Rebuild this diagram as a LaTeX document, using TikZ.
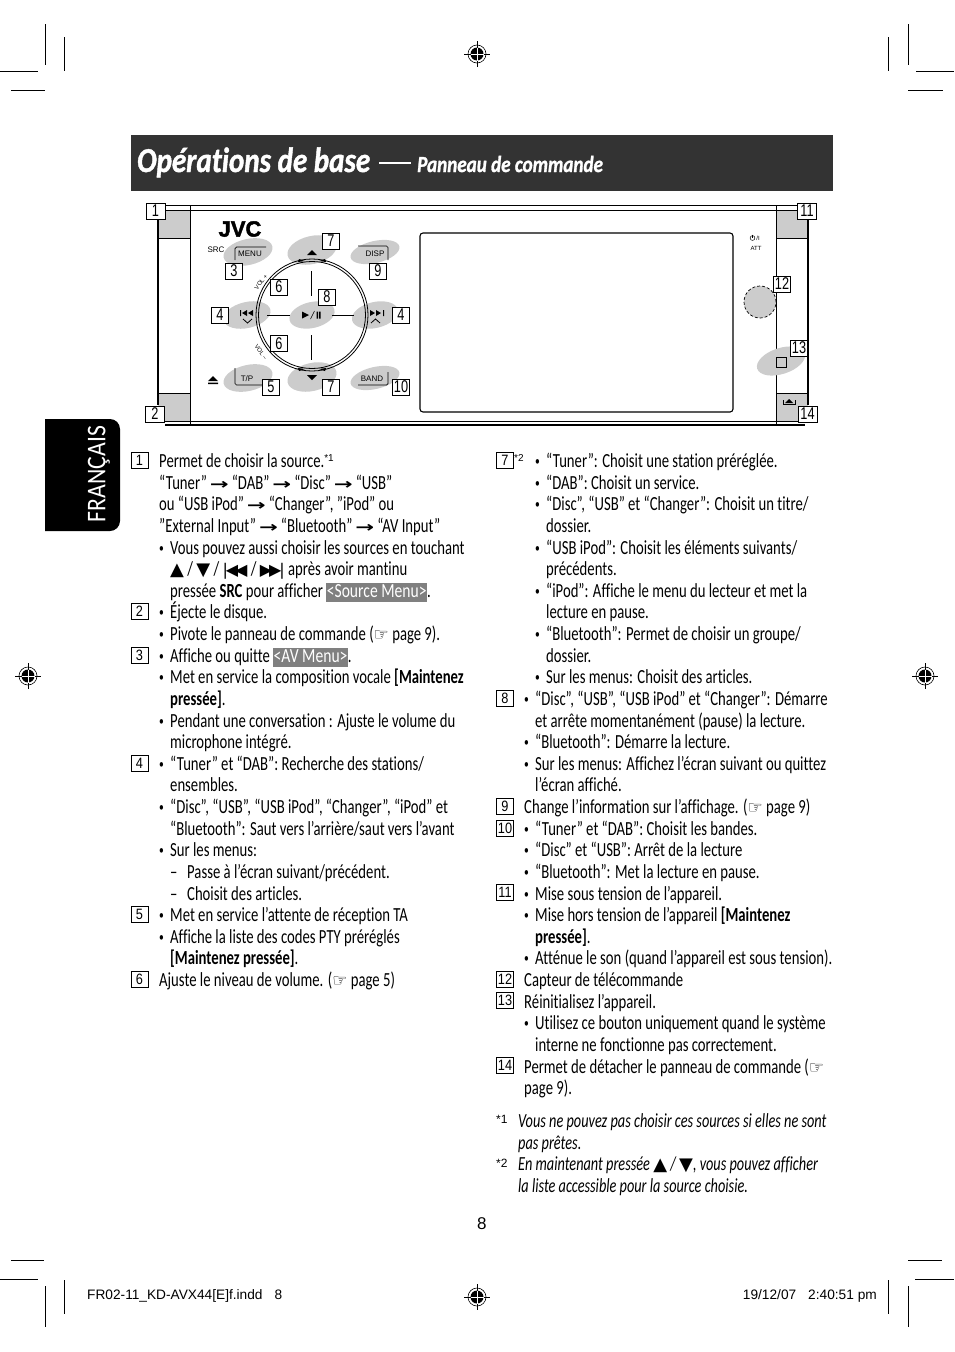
\documentclass[tikz,border=0pt]{standalone}
\usepackage{fontspec}
\setmainfont{Carlito}[FakeStretch=0.735,Ligatures={TeX,NoCommon}]
\newfontfamily\titlefont{Carlito}[FakeStretch=0.83,Ligatures=NoCommon,BoldItalicFeatures={FakeBold=1.2}]
\newfontfamily\notefont{Carlito}[FakeStretch=0.715,Ligatures=NoCommon]
\newfontfamily\tabfont{Carlito}[FakeStretch=0.88]
\newfontfamily\hlfont{Carlito}[FakeStretch=0.78]
\newfontfamily\symfont{DejaVu Sans}
\newfontfamily\arrowfont{DejaVu Sans}[FakeStretch=1.5]
\newfontfamily\arialfont{Liberation Sans}
\newfontfamily\logofont{Liberation Sans}[UprightFont=* Bold,FakeBold=2]
\newfontfamily\boxfont{Liberation Sans}[FakeStretch=0.85]
\newfontfamily\thinboxfont{Liberation Sans}[FakeStretch=0.75]
\usetikzlibrary{positioning,shapes.geometric}
\definecolor{panelgray}{HTML}{CCCCCC}
\definecolor{barblack}{HTML}{333333}
\definecolor{menugray}{HTML}{808080}
\newcommand{\bu}{\makebox[11pt][l]{\raisebox{1.5pt}{\fontsize{13}{13}\selectfont\textbullet}}}
\newcommand{\arr}{\hspace{3pt}{\arrowfont\fontsize{15}{15}\selectfont\bfseries→}\hspace{3pt}}
\newcommand{\hand}{{\symfont\fontsize{17}{17}\selectfont☞}\,}
\newcommand{\uptri}{{\symfont\fontsize{18}{18}\selectfont▲}}
\newcommand{\dntri}{{\symfont\fontsize{18}{18}\selectfont▼}}
\newcommand{\prevsym}{{\symfont\fontsize{16}{16}\selectfont|\kern-2pt◀\kern-3pt◀}}
\newcommand{\nextsym}{{\symfont\fontsize{16}{16}\selectfont▶\kern-3pt▶\kern-2pt|}}
\newcommand{\hlmenu}[1]{{\fboxsep=0.5pt\colorbox{menugray}{\rule[-4pt]{0pt}{18pt}\textcolor{white}{\hlfont #1}}}}
\newcommand{\refmark}[1]{\raisebox{6pt}{\arialfont\fontsize{10}{10}\selectfont*#1}}
\tikzset{
  txt/.style={anchor=base west,inner sep=0pt,yshift=-1pt,font=\fontsize{20}{20}\selectfont},
  note/.style={anchor=base west,inner sep=0pt,font=\notefont\fontsize{20}{20}\selectfont\itshape},
  numbox/.style={draw,line width=.6pt,fill=white,minimum width=17pt,minimum height=16pt,inner sep=0pt,font=\boxfont\fontsize{15}{15}\selectfont},
  callout/.style={numbox,font=\thinboxfont\fontsize{17}{17}\selectfont},
  keyzone/.style={ellipse,fill=panelgray,inner sep=0pt,minimum width=50pt,minimum height=26pt,rotate=13},
  keyname/.style={inner sep=0pt,font=\arialfont\fontsize{8}{8}\selectfont},
  tinyname/.style={inner sep=0pt,font=\arialfont\fontsize{6}{6}\selectfont},
  footer/.style={anchor=base west,inner sep=0pt,font=\arialfont\fontsize{13.7}{13.7}\selectfont},
  regmark/.pic={
    \draw[line width=.6pt] (0,0) circle[radius=9pt];
    \draw[line width=.6pt] (-13,0) -- (13,0) (0,-13) -- (0,13);
    \fill (0,0) circle[radius=6.5pt];
    \draw[white,line width=.7pt] (-6.5,0) -- (6.5,0) (0,-6.5) -- (0,6.5);
  }
}
\begin{document}
\begin{tikzpicture}[x=1pt,y=-1pt]
\useasboundingbox (0,0) rectangle (954,1352);
% crop marks
\draw[line width=.8pt] (0,71) -- (38,71) (11,90) -- (45,90) (45,24) -- (45,65) (64,37) -- (64,71);
\draw[line width=.8pt] (916,71) -- (954,71) (908,90) -- (943,90) (908,24) -- (908,65) (888,37) -- (888,71);
\draw[line width=.8pt] (11,1260) -- (44,1260) (0,1279) -- (38,1279) (64,1280) -- (64,1314) (45,1286) -- (45,1327);
\draw[line width=.8pt] (908,1260) -- (942,1260) (915,1279) -- (954,1279) (888,1280) -- (888,1314) (908,1286) -- (908,1327);
\pic at (477,54) {regmark};
\pic at (28,676) {regmark};
\pic at (925,676) {regmark};
\pic at (477,1297) {regmark};
% title bar
\fill[barblack] (131,135) rectangle (833,191);
\node[anchor=base west,inner sep=0pt,white,font=\titlefont\fontsize{35}{35}\selectfont\bfseries\itshape] (title) at (137,172) {Opérations de base};
\draw[white,line width=2.2pt] (379,163) -- (411,163);
\node[anchor=base west,inner sep=0pt,white,font=\titlefont\fontsize{23}{23}\selectfont\bfseries\itshape] (subtitle) at (417,172) {Panneau de commande};
% language tab
\fill[black] (45,419) [rounded corners=10pt] -- (120,419) -- (120,531) [sharp corners] -- (45,531) -- cycle;
\node[white,rotate=90,inner sep=0pt,font=\tabfont\fontsize{27}{27}\selectfont] (lang) at (99,474) {FRANÇAIS};
% panel
\fill[panelgray] (158,210) rectangle (190,238) (158,393) rectangle (190,421) (776,210) rectangle (808,238) (776,393) rectangle (808,421);
\draw (158,238) -- (190,238) (158,393) -- (190,393) (776,238) -- (808,238) (776,393) -- (808,393);
\draw[line width=1.2pt] (165,205.5) -- (798,205.5);
\draw[line width=.6pt] (158,210) -- (808,210);
\draw[line width=.6pt] (158,421) -- (808,421);
\draw[line width=1.2pt] (165,425) -- (805,425);
\draw[line width=1.4pt] (158,219) -- (158,405) (808,219) -- (808,405);
\draw[line width=.7pt] (190,205) -- (190,425) (776,205) -- (776,425);
\draw[line width=1.1pt,rounded corners=3pt] (420,233) rectangle (733,412);
% key zones
\node[keyzone] (menuzone) at (248,252) {};
\node[keyzone,minimum height=28pt] (upzone) at (312,250) {};
\node[keyzone,minimum height=22pt] (dispzone) at (375,252) {};
\node[keyzone,minimum width=48pt] (prevzone) at (247,315) {};
\node[keyzone,minimum width=46pt] (playzone) at (312,315) {};
\node[keyzone,minimum width=47pt] (nextzone) at (375,315) {};
\node[keyzone] (tpzone) at (248,378) {};
\node[keyzone,minimum height=28pt] (downzone) at (312,377) {};
\node[keyzone,minimum height=22pt] (bandzone) at (375,378) {};
\node[keyzone,rotate=5] (resetzone) at (781,361) {};
\draw[fill=panelgray,densely dashed,line width=.7pt] (760,302) circle[radius=16pt];
% dial
\draw[line width=.8pt] (312,315) circle[radius=56pt];
\draw[line width=.8pt] (312,315) circle[radius=53.5pt];
\draw[line width=.7pt] (311,271) -- (311,296) (311,335) -- (311,360) (267,315) -- (290,315) (332,315) -- (354,315);
\fill (307,255) -- (317,255) -- (312,250) -- cycle;
\fill (307,375) -- (317,375) -- (312,380) -- cycle;
\fill (299,259) -- (305,261) -- (298,262) -- cycle (325,259) -- (319,261) -- (326,262) -- cycle;
\fill (299,371) -- (305,369) -- (298,368) -- cycle (325,371) -- (319,369) -- (326,368) -- cycle;
\fill (302,311.5) -- (302,318.5) -- (309,315) -- cycle;
\fill (316.5,311.5) rectangle (318,318.5) (319,311.5) rectangle (320.5,318.5);
\draw[line width=.5pt] (310.5,319) -- (314.5,311);
% skip keys
\fill (240,310) rectangle (241,316) (247,310) -- (247,316) -- (242,313) -- cycle (253,310) -- (253,316) -- (248,313) -- cycle;
\fill (383,310) rectangle (384,316) (376,310) -- (376,316) -- (381,313) -- cycle (370,310) -- (370,316) -- (375,313) -- cycle;
\draw[line width=.8pt] (243,319) -- (247.5,323) -- (252,319) (371,323) -- (375.5,319) -- (380,323);
% key frames
\draw[line width=.7pt,rounded corners=1.5pt] (235,260) -- (235,247) -- (266,247);
\draw[line width=.7pt,rounded corners=1.5pt] (358,246) -- (388,246) -- (388,260);
\draw[line width=.7pt,rounded corners=1.5pt] (235,368) -- (235,385) -- (266,385);
\draw[line width=.7pt,rounded corners=1.5pt] (358,385) -- (388,385) -- (388,372);
\node[keyname] (menukey) at (250,253.5) {MENU};
\node[keyname] (dispkey) at (375,254) {DISP};
\node[keyname] (tpkey) at (247,378.5) {T/P};
\node[keyname] (bandkey) at (372,378.5) {BAND};
\node[keyname] (srckey) at (216,250) {SRC};
\node[inner sep=0pt,font=\logofont\fontsize{22}{22}\selectfont] (logo) at (240,229) {JVC};
\node[tinyname,rotate=52] (volup) at (261,282) {VOL +};
\node[tinyname,rotate=-55] (voldown) at (261,352) {VOL –};
% eject and detach
\fill (208,381) -- (218,381) -- (213,376) -- cycle (208,382.5) rectangle (218,384);
\fill (785,403) -- (793,403) -- (789,399) -- cycle;
\draw[line width=.8pt] (783,400) -- (783,404.5) -- (795,404.5) -- (795,400);
\draw[line width=.7pt] (776.5,357) rectangle (786,367);
% power
\draw[line width=.5pt] (752.5,238) circle[radius=2.4pt];
\draw[line width=.5pt] (752.5,234.5) -- (752.5,238);
\node[tinyname] (powerkey) at (758,238) {/I};
\node[tinyname] (attkey) at (756,248) {ATT};
% callouts
\node[callout,minimum width=19pt] (p1) at (155.5,211) {1};
\node[callout,minimum width=19pt] (p2) at (155,414) {2};
\node[callout] (p3) at (234,271) {3};
\node[callout] (p4a) at (220,315) {4};
\node[callout] (p4b) at (401,315) {4};
\node[callout] (p5) at (271,387) {5};
\node[callout] (p6a) at (279,287) {6};
\node[callout] (p6b) at (279,343.5) {6};
\node[callout] (p7a) at (331,241) {7};
\node[callout] (p7b) at (331,387) {7};
\node[callout] (p8) at (327,297) {8};
\node[callout] (p9) at (378,271) {9};
\node[callout] (p10) at (401,387) {10};
\node[callout,minimum width=19pt] (p11) at (807,211) {11};
\node[callout] (p12) at (782,284) {12};
\node[callout] (p13) at (799,348) {13};
\node[callout,minimum width=19pt] (p14) at (807.5,414) {14};
% left column
\node[numbox] (k1) at (139.5,460) {1};
\node[numbox] (k2) at (139.5,611) {2};
\node[numbox] (k3) at (139.5,655) {3};
\node[numbox] (k4) at (139.5,763) {4};
\node[numbox] (k5) at (139.5,914) {5};
\node[numbox] (k6) at (139.5,979) {6};
\node[txt] (l0) at (159,466) {Permet de choisir la source.\refmark{1}};
\node[txt] (l1) at (159,488) {“Tuner”\arr“DAB”\arr“Disc”\arr“USB”};
\node[txt] (l2) at (159,509) {ou “USB iPod”\arr“Changer”, ”iPod” ou};
\node[txt] (l3) at (159,531) {”External Input”\arr“Bluetooth”\arr“AV Input”};
\node[txt] (l4) at (159,553) {\bu Vous pouvez aussi choisir les sources en touchant};
\node[txt] (l5) at (170,574) {\uptri\ / \dntri\ / \prevsym\ / \nextsym\ après avoir mantinu};
\node[txt] (l6) at (170,596) {pressée \textbf{SRC} pour afficher \hlmenu{<Source Menu>}.};
\node[txt] (l7) at (159,617) {\bu Éjecte le disque.};
\node[txt] (l8) at (159,639) {\bu Pivote le panneau de commande (\hand page 9).};
\node[txt] (l9) at (159,661) {\bu Affiche ou quitte \hlmenu{<AV Menu>}.};
\node[txt] (l10) at (159,682) {\bu Met en service la composition vocale \textbf{[Maintenez}};
\node[txt] (l11) at (170,704) {\textbf{pressée]}.};
\node[txt] (l12) at (159,726) {\bu Pendant une conversation : Ajuste le volume du};
\node[txt] (l13) at (170,747) {microphone intégré.};
\node[txt] (l14) at (159,769) {\bu “Tuner” et “DAB”: Recherche des stations/};
\node[txt] (l15) at (170,790) {ensembles.};
\node[txt] (l16) at (159,812) {\bu “Disc”, “USB”, “USB iPod”, “Changer”, “iPod” et};
\node[txt] (l17) at (170,834) {“Bluetooth”: Saut vers l’arrière/saut vers l’avant};
\node[txt] (l18) at (159,855) {\bu Sur les menus:};
\node[txt] (l19) at (170,877) {\makebox[17pt][l]{–}Passe à l’écran suivant/précédent.};
\node[txt] (l20) at (170,899) {\makebox[17pt][l]{–}Choisit des articles.};
\node[txt] (l21) at (159,920) {\bu Met en service l’attente de réception TA};
\node[txt] (l22) at (159,942) {\bu Affiche la liste des codes PTY préréglés};
\node[txt] (l23) at (170,963) {\textbf{[Maintenez pressée]}.};
\node[txt] (l24) at (159,985) {Ajuste le niveau de volume. (\hand page 5)};
% right column
\node[numbox] (k7) at (505,460) {7};
\node[numbox] (k8) at (505,698) {8};
\node[numbox] (k9) at (505,806) {9};
\node[numbox] (k10) at (505,828) {10};
\node[numbox] (k11) at (505,892) {11};
\node[numbox] (k12) at (505,979) {12};
\node[numbox] (k13) at (505,1000) {13};
\node[numbox] (k14) at (505,1065) {14};
\node[txt,font=\arialfont\fontsize{10}{10}\selectfont] (s7) at (514,460) {*2};
\node[txt] (r0) at (535,466) {\bu “Tuner”: Choisit une station préréglée.};
\node[txt] (r1) at (535,488) {\bu “DAB”: Choisit un service.};
\node[txt] (r2) at (535,509) {\bu “Disc”, “USB” et “Changer”: Choisit un titre/};
\node[txt] (r3) at (546,531) {dossier.};
\node[txt] (r4) at (535,553) {\bu “USB iPod”: Choisit les éléments suivants/};
\node[txt] (r5) at (546,574) {précédents.};
\node[txt] (r6) at (535,596) {\bu “iPod”: Affiche le menu du lecteur et met la};
\node[txt] (r7) at (546,617) {lecture en pause.};
\node[txt] (r8) at (535,639) {\bu “Bluetooth”: Permet de choisir un groupe/};
\node[txt] (r9) at (546,661) {dossier.};
\node[txt] (r10) at (535,682) {\bu Sur les menus: Choisit des articles.};
\node[txt] (r11) at (524,704) {\bu “Disc”, “USB”, “USB iPod” et “Changer”: Démarre};
\node[txt] (r12) at (535,726) {et arrête momentanément (pause) la lecture.};
\node[txt] (r13) at (524,747) {\bu “Bluetooth”: Démarre la lecture.};
\node[txt] (r14) at (524,769) {\bu Sur les menus: Affichez l’écran suivant ou quittez};
\node[txt] (r15) at (535,790) {l’écran affiché.};
\node[txt] (r16) at (524,812) {Change l’information sur l’affichage. (\hand page 9)};
\node[txt] (r17) at (524,834) {\bu “Tuner” et “DAB”: Choisit les bandes.};
\node[txt] (r18) at (524,855) {\bu “Disc” et “USB”: Arrêt de la lecture};
\node[txt] (r19) at (524,877) {\bu “Bluetooth”: Met la lecture en pause.};
\node[txt] (r20) at (524,899) {\bu Mise sous tension de l’appareil.};
\node[txt] (r21) at (524,920) {\bu Mise hors tension de l’appareil \textbf{[Maintenez}};
\node[txt] (r22) at (535,942) {\textbf{pressée]}.};
\node[txt] (r23) at (524,963) {\bu Atténue le son (quand l’appareil est sous tension).};
\node[txt] (r24) at (524,985) {Capteur de télécommande};
\node[txt] (r25) at (524,1007) {Réinitialisez l’appareil.};
\node[txt] (r26) at (524,1028) {\bu Utilisez ce bouton uniquement quand le système};
\node[txt] (r27) at (535,1050) {interne ne fonctionne pas correctement.};
\node[txt] (r28) at (524,1072) {Permet de détacher le panneau de commande (\hand};
\node[txt] (r29) at (524,1093) {page 9).};
% notes
\node[txt,font=\arialfont\fontsize{12}{12}\selectfont] (n1) at (496,1122) {*1};
\node[txt,font=\arialfont\fontsize{12}{12}\selectfont] (n2) at (496,1166) {*2};
\node[note] (f0) at (518,1127) {Vous ne pouvez pas choisir ces sources si elles ne sont};
\node[note] (f1) at (518,1149) {pas prêtes.};
\node[note] (f2) at (518,1170) {En maintenant pressée \uptri\ / \dntri, vous pouvez afficher};
\node[note] (f3) at (518,1192) {la liste accessible pour la source choisie.};
% footer
\node[footer,font=\arialfont\fontsize{17}{17}\selectfont] (pagenum) at (477,1229) {8};
\node[footer] (jobname) at (87,1299) {FR02-11\_KD-AVX44[E]f.indd\hspace{12pt}8};
\node[footer,anchor=base east] (stamp) at (877,1299) {19/12/07\hspace{12pt}2:40:51 pm};
\end{tikzpicture}
\end{document}
